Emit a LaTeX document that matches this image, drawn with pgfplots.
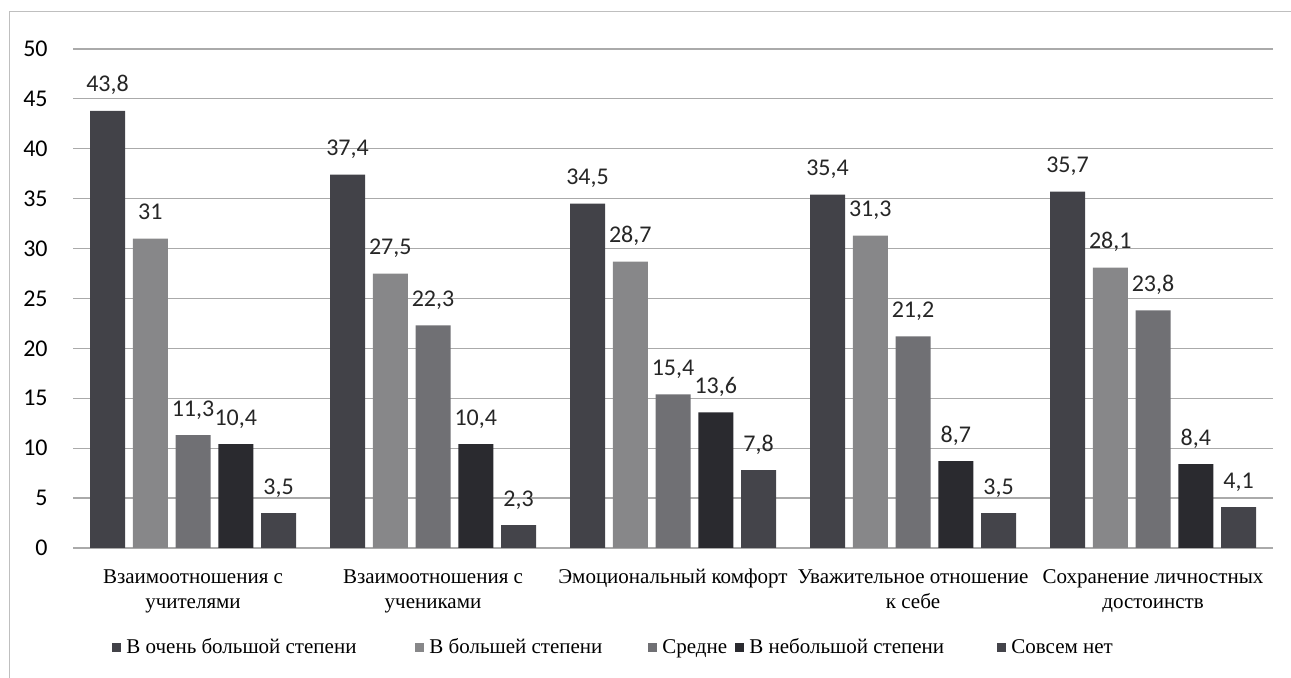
\documentclass[border=0pt]{standalone}
\usepackage{fontspec}
\setmainfont{Liberation Serif}
\newfontfamily\calibri{Carlito}
\usepackage{pgfplots}
\pgfplotsset{compat=1.18}
\definecolor{c1}{RGB}{66,66,72}
\definecolor{c2}{RGB}{135,135,137}
\definecolor{c3}{RGB}{112,112,116}
\definecolor{c4}{RGB}{42,42,47}
\definecolor{c5}{RGB}{68,68,74}
\definecolor{gridc}{RGB}{170,170,170}
\begin{document}
\begin{tikzpicture}
\path[use as bounding box] (-36.5pt,-65pt) rectangle (609pt,274pt);
\draw[gray!50, line width=0.5pt] (-31.5pt,-65pt) -- (-31.5pt,268pt) -- (609pt,268pt);
\begin{axis}[
  at={(0,0)}, anchor=south west,
  scale only axis, width=600pt, height=249.5pt,
  ybar=3.875pt, bar width=17.5pt,
  xmin=-0.5, xmax=4.5, ymin=0, ymax=50,
  xtick=data,
  xticklabels={{Взаимоотношения с\\учителями},{Взаимоотношения с\\учениками},{Эмоциональный комфорт},{Уважительное отношение\\к себе},{Сохранение личностных\\достоинств}},
  xticklabel style={align=center, font=\fontsize{10.5}{12.5}\selectfont, anchor=north, inner sep=0pt, yshift=-10.5pt},
  ytick={0,5,...,50},
  yticklabel style={font=\calibri\fontsize{12}{14}\selectfont, anchor=east, inner sep=0pt, xshift=-12.5pt},
  /pgf/number format/assume math mode=true,
  /pgf/number format/use comma,
  /pgf/number format/fixed,
  /pgf/number format/precision=1,
  major tick length=0pt,
  axis line style={draw=none},
  ymajorgrids, major grid style={gridc, line width=0.6pt},
  nodes near coords,
  every node near coord/.append style={font=\calibri\fontsize{12}{14}\selectfont, anchor=base, inner sep=0pt, yshift=9.5pt, text=black!85},
  every axis plot post/.append style={legend image code/.code={\fill[##1] (0pt,0.8pt) rectangle (4.5pt,5.3pt);}},
  legend columns=5,
  legend style={draw=none, fill=none, inner sep=0pt, at={(axis description cs:0.0325,-0.2)}, anchor=west,
    font=\fontsize{10.5}{12}\selectfont,
    nodes={inner sep=0pt, anchor=base west},
    /tikz/every odd column/.append style={column sep=2.5pt},
    /tikz/every even column/.append style={column sep=0pt}},
]
\addplot[fill=c1, draw=none] coordinates {(0,43.8) (1,37.4) (2,34.5) (3,35.4) (4,35.7)};
\addplot[fill=c2, draw=none] coordinates {(0,31) (1,27.5) (2,28.7) (3,31.3) (4,28.1)};
\addplot[fill=c3, draw=none] coordinates {(0,11.3) (1,22.3) (2,15.4) (3,21.2) (4,23.8)};
\addplot[fill=c4, draw=none] coordinates {(0,10.4) (1,10.4) (2,13.6) (3,8.7) (4,8.4)};
\addplot[fill=c5, draw=none] coordinates {(0,3.5) (1,2.3) (2,7.8) (3,3.5) (4,4.1)};
\legend{\makebox[144.5pt][l]{В очень большой степени},\makebox[109.5pt][l]{В большей степени},\makebox[36.5pt][l]{Средне},\makebox[124pt][l]{В небольшой степени},Совсем нет}
\end{axis}
\end{tikzpicture}
\end{document}
